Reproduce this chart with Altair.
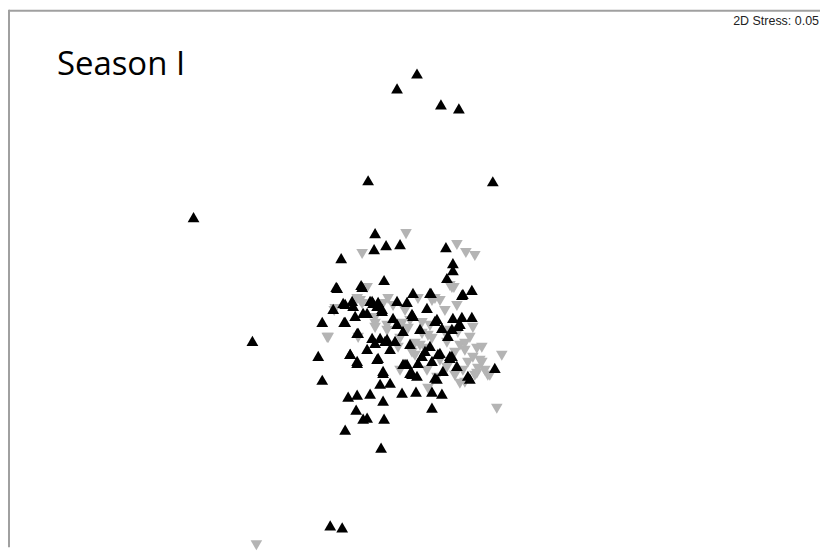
import altair as alt
import pandas as pd

# NMDS ordination coordinates (plot units)
black_x = [417, 397, 441, 459, 368, 493, 193, 252, 330, 342,
           375, 374, 386, 400, 446, 341, 453, 453, 447, 336, 361, 384, 413, 431, 462, 472,
           343, 352, 370, 377, 382, 397, 333, 373, 427, 412, 453, 462, 472, 435, 382, 367,
           397, 442, 452, 460, 322, 344, 357, 403,
           385, 375, 367, 390, 410, 425, 438, 450, 378, 403, 418, 432, 383, 410, 495, 318,
           350, 357, 322, 383, 380, 390, 402, 416, 432, 442, 348, 357, 370, 383, 356, 363,
           367, 384, 345, 381, 432, 407, 412, 437, 450, 470,
           337, 362, 345, 353, 372, 378, 407, 355, 363, 345, 393, 413, 358, 372, 380, 387,
           350, 357, 377, 405, 412, 395, 430, 463, 437, 458, 420, 448, 430, 440, 452, 422,
           457, 443, 468, 435, 417]
black_y = [72, 87, 103, 107, 179, 180, 216, 340, 525, 527,
           232, 248, 244, 243, 246, 257, 262, 269, 277, 286, 284, 279, 292, 292, 294, 289,
           302, 300, 300, 305, 308, 300, 308, 302, 307, 313, 317, 316, 316, 320, 310, 312,
           323, 327, 328, 323, 321, 321, 332, 330,
           340, 342, 348, 348, 343, 350, 353, 357, 357, 363, 362, 360, 370, 372, 367, 355,
           353, 362, 379, 372, 383, 382, 392, 391, 391, 393, 396, 394, 393, 400, 409, 418,
           417, 418, 429, 447, 407, 363, 373, 378, 355, 378,
           287, 286, 303, 305, 300, 301, 301, 315, 312, 321, 317, 315, 332, 337, 337, 338,
           353, 360, 358, 363, 372, 340, 292, 293, 318, 325, 328, 335, 345, 352, 355, 355,
           365, 370, 375, 377, 375]

gray_x = [256, 406, 362, 457, 466, 475, 454, 450, 334, 327, 502, 497, 460, 428, 400,
          457, 393, 375, 410, 422, 432, 447, 460, 470, 473, 447, 463, 477, 387, 400, 473,
          482, 427, 437, 367, 362, 383, 375, 357, 388, 418, 432, 485, 490, 445, 420, 455,
          468, 440, 415, 405, 440, 480, 465, 450, 430,
          335, 360, 375, 387, 405, 402, 328, 358, 398, 412, 408, 452, 435, 422, 465, 477,
          455, 482, 425, 428, 475, 488, 465, 445, 415, 458, 478]
gray_y = [545, 233, 253, 244, 252, 255, 287, 285, 310, 337, 355, 408, 383, 388, 370,
          305, 305, 323, 320, 333, 338, 342, 345, 337, 357, 367, 370, 373, 330, 338, 327,
          347, 370, 377, 287, 303, 303, 327, 298, 298, 298, 300, 370, 375, 310, 345, 375,
          362, 360, 355, 310, 300, 360, 350, 330, 325,
          308, 300, 317, 325, 308, 323, 337, 337, 347, 352, 328, 287, 298, 322, 343, 348,
          352, 362, 348, 335, 375, 375, 382, 332, 343, 332, 368]

df_black = pd.DataFrame({"NMDS1": black_x, "NMDS2": black_y})
df_gray = pd.DataFrame({"NMDS1": gray_x, "NMDS2": gray_y})

W, H = 813, 539
xs = alt.Scale(domain=[8, 821], zero=False, nice=False)
ys = alt.Scale(domain=[8, 547], zero=False, nice=False, reverse=True)

gray = alt.Chart(df_gray).mark_point(
    shape="triangle-down", filled=True, color="#b4b4b4", opacity=1, size=135
).encode(
    x=alt.X("NMDS1:Q", scale=xs, axis=None),
    y=alt.Y("NMDS2:Q", scale=ys, axis=None),
)

black = alt.Chart(df_black).mark_point(
    shape="triangle-up", filled=True, color="#000000", opacity=1, size=140
).encode(
    x=alt.X("NMDS1:Q", scale=xs, axis=None),
    y=alt.Y("NMDS2:Q", scale=ys, axis=None),
)

top_rule = alt.Chart(pd.DataFrame({"a": [0]})).mark_rule(
    color="#a0a0a0", strokeWidth=2
).encode(x=alt.value(0), x2=alt.value(W), y=alt.value(1))

left_rule = alt.Chart(pd.DataFrame({"a": [0]})).mark_rule(
    color="#a0a0a0", strokeWidth=2
).encode(x=alt.value(0), y=alt.value(0), y2=alt.value(H))

title_txt = alt.Chart(pd.DataFrame({"t": ["Season I"]})).mark_text(
    align="left", baseline="alphabetic", fontSize=33, font="Open Sans", color="#000000"
).encode(x=alt.value(48), y=alt.value(65), text="t:N")

stress_txt = alt.Chart(pd.DataFrame({"t": ["2D Stress: 0.05"]})).mark_text(
    align="right", baseline="alphabetic", fontSize=12.5, font="Liberation Sans", color="#222222"
).encode(x=alt.value(W - 1), y=alt.value(15), text="t:N")

chart = alt.layer(gray, black, top_rule, left_rule, title_txt, stress_txt).properties(
    width=W, height=H, padding=0
).configure_view(stroke=None)

chart.save("out.html", embed_options={"renderer": "svg", "actions": False})
